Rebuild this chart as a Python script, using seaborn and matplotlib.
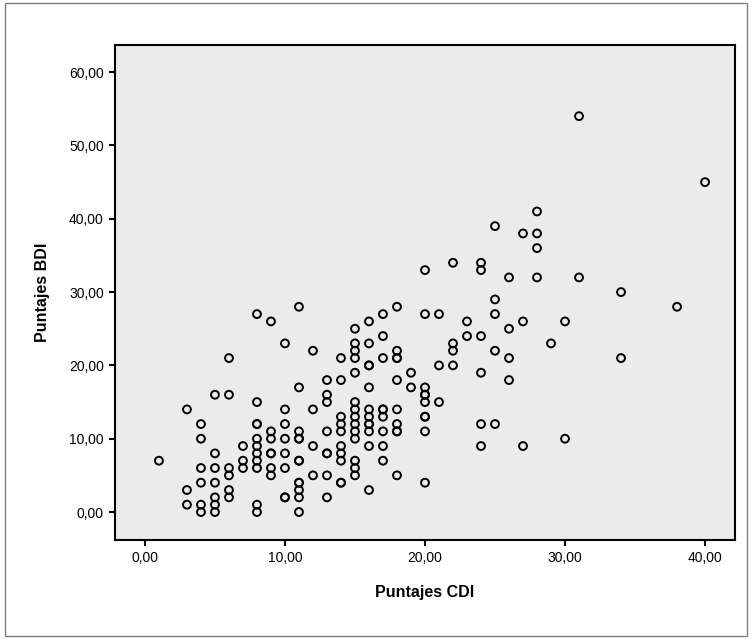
# Diagrama de dispersión CDI vs BDI (estilo SPSS)

import pandas as pd
import matplotlib
matplotlib.use("Agg")
import matplotlib.pyplot as plt
import matplotlib.patches as mpatches
from matplotlib.ticker import FuncFormatter
import seaborn as sns


# ------------------------------------------------------------
# 1. Datos (una fila por valor de CDI)
# ------------------------------------------------------------

cdi = [
    1,
    3, 3, 3,
    4, 4, 4, 4, 4, 4,
    5, 5, 5, 5, 5, 5, 5,
    6, 6, 6, 6, 6, 6,
    7, 7, 7,
    8, 8, 8, 8, 8, 8, 8, 8, 8, 8, 8,
    9, 9, 9, 9, 9, 9, 9,
    10, 10, 10, 10, 10, 10, 10, 10,
    11, 11, 11, 11, 11, 11, 11, 11, 11, 11, 11, 11,
    12, 12, 12, 12,
    13, 13, 13, 13, 13, 13, 13, 13,
    14, 14, 14, 14, 14, 14, 14, 14, 14, 14,
    15, 15, 15, 15, 15, 15, 15, 15, 15, 15, 15, 15, 15, 15,
    16, 16, 16, 16, 16, 16, 16, 16, 16, 16, 16, 16,
    17, 17, 17, 17, 17, 17, 17, 17, 17,
    18, 18, 18, 18, 18, 18, 18, 18, 18, 18,
    19, 19,
    20, 20, 20, 20, 20, 20, 20, 20, 20, 20,
    21, 21, 21,
    22, 22, 22, 22,
    23, 23,
    24, 24, 24, 24, 24, 24,
    25, 25, 25, 25, 25,
    26, 26, 26, 26,
    27, 27, 27,
    28, 28, 28, 28,
    29,
    30, 30,
    31, 31,
    34, 34,
    38,
    40,
]

bdi = [
    7,
    14, 3, 1,
    12, 10, 6, 4, 1, 0,
    16, 8, 6, 4, 2, 1, 0,
    21, 16, 6, 5, 3, 2,
    9, 7, 6,
    27, 15, 12, 12, 10, 9, 8, 7, 6, 1, 0,
    26, 11, 10, 8, 8, 6, 5,
    23, 14, 12, 10, 8, 6, 2, 2,
    28, 17, 11, 10, 10, 7, 7, 4, 4, 3, 2, 0,
    22, 14, 9, 5,
    18, 16, 15, 11, 8, 8, 5, 2,
    21, 18, 13, 12, 11, 9, 8, 7, 4, 4,
    25, 23, 22, 21, 19, 15, 14, 13, 12, 11, 10, 7, 6, 5,
    26, 23, 20, 20, 17, 14, 13, 12, 12, 11, 9, 3,
    27, 24, 21, 14, 14, 13, 11, 9, 7,
    28, 22, 21, 21, 18, 14, 12, 11, 11, 5,
    19, 17,
    33, 27, 17, 16, 16, 15, 13, 13, 11, 4,
    27, 20, 15,
    34, 23, 22, 20,
    26, 24,
    34, 33, 24, 19, 12, 9,
    39, 29, 27, 22, 12,
    32, 25, 21, 18,
    38, 26, 9,
    41, 38, 36, 32,
    23,
    26, 10,
    54, 32,
    30, 21,
    28,
    45,
]

x_ticks = [0, 10, 20, 30, 40]
y_ticks = [0, 10, 20, 30, 40, 50, 60]

df = pd.DataFrame({"Puntajes CDI": cdi, "Puntajes BDI": bdi})


# ------------------------------------------------------------
# 2. Figura
# ------------------------------------------------------------

sns.set_style("white")
plt.rcParams["font.family"] = ["Liberation Sans", "DejaVu Sans"]
plt.rcParams["text.color"] = "black"
plt.rcParams["axes.labelcolor"] = "black"
plt.rcParams["xtick.color"] = "black"
plt.rcParams["ytick.color"] = "black"

fig = plt.figure(figsize=(7.52, 6.39), dpi=100)
ax = fig.add_axes([0.1529, 0.1549, 0.8245, 0.7746])
ax.set_facecolor("#ebebeb")

# marco exterior gris
fig.patches.append(mpatches.Rectangle(
    (0.007, 0.005), 0.986, 0.99, transform=fig.transFigure,
    fill=False, edgecolor="#7f7f7f", linewidth=1.0
))

sns.scatterplot(
    data=df,
    x="Puntajes CDI",
    y="Puntajes BDI",
    marker="o",
    s=32,
    facecolors="none",
    edgecolor="black",
    linewidth=1.4,
    ax=ax
)

ax.set_xlim(-2.14, 42.14)
ax.set_ylim(-3.82, 63.7)
ax.set_xticks(x_ticks)
ax.set_yticks(y_ticks)

fmt = FuncFormatter(lambda v, pos: f"{v:.2f}".replace(".", ","))
ax.xaxis.set_major_formatter(fmt)
ax.yaxis.set_major_formatter(fmt)

ax.tick_params(axis="both", direction="out", length=4, width=1.5,
               colors="black", labelsize=10, pad=4,
               bottom=True, left=True)

for sp in ax.spines.values():
    sp.set_visible(True)
    sp.set_color("black")
    sp.set_linewidth(1.5)

ax.set_xlabel("Puntajes CDI", fontsize=11.5, fontweight="bold", labelpad=14)
ax.set_ylabel("Puntajes BDI", fontsize=11.5, fontweight="bold", labelpad=14)

fig.savefig("out.png", dpi=100, facecolor="white")
